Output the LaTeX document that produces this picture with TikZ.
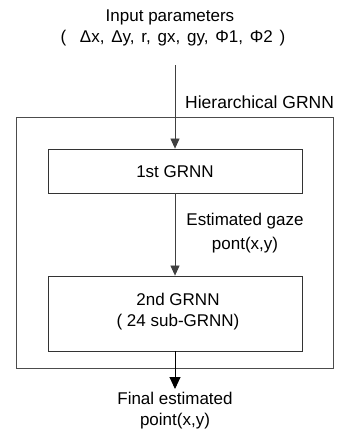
\documentclass[tikz,border=0pt]{standalone}
\usepackage{fontspec}
\setmainfont{Liberation Sans}
\usetikzlibrary{arrows.meta}
\begin{document}
\begin{tikzpicture}[x=1pt,y=-1pt,
  lbl/.style={font=\fontsize{17}{20}\selectfont, inner sep=0pt, align=center},
  blk/.style={draw=black!80, line width=0.8pt, minimum width=254pt, inner sep=0pt},
  outer/.style={draw=black!70, line width=0.8pt},
  flow/.style={draw=black!75, line width=0.7pt, -{Triangle[length=10pt,width=9pt]}},
  flowb/.style={draw=black, line width=0.9pt, -{Triangle[length=12pt,width=11pt]}}]
\useasboundingbox (0,0) rectangle (342,445);
\node[lbl] (in1) at (170,17) {Input parameters};
\node[lbl] (in2) at (173,38) {\spaceskip=6.8pt (\ \ Δx, Δy, r, gx, gy, Φ1, Φ2 )};
\node[lbl, anchor=west, font=\fontsize{17.5}{20}\selectfont] (hier) at (185,102) {Hierarchical GRNN};
\draw[outer] (16,117) rectangle (333,368);
\coordinate (start) at (175,65);
\node[blk, minimum height=44pt] (g1) at (175,171) {};
\node[lbl] (g1t) at (175,172) {1st GRNN};
\node[blk, minimum height=75pt] (g2) at (175,313.5) {};
\node[lbl] (g2t) at (178,312) {2nd GRNN\\[1pt]( 24 sub-GRNN)};
\node[lbl] (est) at (245,233) {Estimated gaze\\[4pt]pont(x,y)};
\coordinate (endp) at (175,389);
\node[lbl] (fin) at (175,411) {Final estimated\\[1pt]point(x,y)};
\draw[flow] (start) -- (g1.north);
\draw[flow] (g1.south) -- (g2.north);
\draw[flowb] (g2.south) -- (endp);
\end{tikzpicture}
\end{document}
